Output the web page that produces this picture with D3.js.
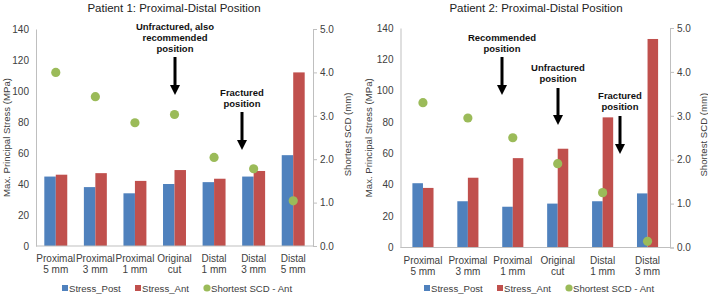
<!DOCTYPE html>
<html>
<head>
<meta charset="utf-8">
<script src="https://cdn.jsdelivr.net/npm/d3@7"></script>
<style>
  body { margin: 0; background: #fff; }
  svg { display: block; font-family: "Liberation Sans", Arial, sans-serif; }
</style>
</head>
<body>
<svg id="chart" width="708" height="295"></svg>
<script>
// data
var categories1 = [["Proximal", "5 mm"], ["Proximal", "3 mm"], ["Proximal", "1 mm"], ["Original", "cut"], ["Distal", "1 mm"], ["Distal", "3 mm"], ["Distal", "5 mm"]];
var stressPost1 = [44.8, 38, 34, 40, 41.2, 44.8, 58.6];
var stressAnt1 = [46, 47, 42, 49, 43.4, 48.4, 112];
var scd1 = [4.0, 3.44, 2.84, 3.03, 2.04, 1.78, 1.04];

var categories2 = [["Proximal", "5 mm"], ["Proximal", "3 mm"], ["Proximal", "1 mm"], ["Original", "cut"], ["Distal", "1 mm"], ["Distal", "3 mm"]];
var stressPost2 = [41, 29.5, 26, 28, 29.5, 34.5];
var stressAnt2 = [38, 44.5, 57, 63, 83, 133];
var scd2 = [3.3, 2.95, 2.5, 1.91, 1.25, 0.14];

var stressTicks = [0, 20, 40, 60, 80, 100, 120, 140];
var scdTicks = [0, 1, 2, 3, 4, 5];
var seriesNames = ["Stress_Post", "Stress_Ant", "Shortest SCD - Ant"];

var colPost = "#4f81bd", colAnt = "#c0504d", colScd = "#9bbb59";
var txt = "#404040", axisCol = "#bfbfbf";

var svg = d3.select("#chart");

function drawPanel(cfg) {
    var g = svg.append("g");
    var x = d3.scaleBand()
        .domain(d3.range(cfg.cats.length))
        .range([cfg.left, cfg.right])
        .paddingInner(cfg.pad)
        .paddingOuter(cfg.pad / 2);
    var xs = d3.scaleBand().domain([0, 1]).range([0, x.bandwidth()]);
    var y = d3.scaleLinear().domain([0, 140]).range([cfg.bottom, cfg.top]);
    var y2 = d3.scaleLinear().domain([0, 5]).range([cfg.bottom, cfg.top]);

    // title
    g.append("text")
        .attr("x", cfg.titleX).attr("y", 11.5)
        .attr("text-anchor", "middle")
        .style("font-size", "11.5px").style("fill", "#222")
        .text(cfg.title);

    // left axis
    var ay = g.append("g")
        .attr("transform", "translate(" + cfg.left + ",0)")
        .call(d3.axisLeft(y).tickValues(stressTicks).tickSize(0).tickPadding(7));
    ay.select(".domain").attr("stroke", axisCol);
    ay.selectAll("text").style("font-size", "10px").style("fill", txt).style("font-family", "Liberation Sans, Arial, sans-serif");

    // right axis
    var ay2 = g.append("g")
        .attr("transform", "translate(" + cfg.right + ",0)")
        .call(d3.axisRight(y2).tickValues(scdTicks).tickFormat(d3.format(".1f")).tickSize(4).tickPadding(3));
    ay2.select(".domain").attr("stroke", axisCol);
    ay2.selectAll(".tick line").attr("stroke", axisCol);
    ay2.selectAll("text").style("font-size", "10px").style("fill", txt).style("font-family", "Liberation Sans, Arial, sans-serif");

    // axis titles
    g.append("text")
        .attr("transform", "translate(" + cfg.ytX + "," + ((cfg.top + cfg.bottom) / 2) + ") rotate(-90)")
        .attr("text-anchor", "middle")
        .style("font-size", "9.6px").style("fill", txt)
        .text("Max. Principal Stress (MPa)");
    g.append("text")
        .attr("transform", "translate(" + cfg.yt2X + "," + ((cfg.top + cfg.bottom) / 2 - 3) + ") rotate(-90)")
        .attr("text-anchor", "middle")
        .style("font-size", "9.6px").style("fill", txt)
        .text("Shortest SCD (mm)");

    // bars
    var bars = [cfg.post, cfg.ant];
    var cols = [colPost, colAnt];
    bars.forEach(function(vals, s) {
        g.selectAll("rect.s" + s).data(vals).enter()
            .append("rect")
            .attr("class", "s" + s)
            .attr("x", function(d, i) { return x(i) + xs(s); })
            .attr("width", xs.bandwidth())
            .attr("y", function(d) { return y(d); })
            .attr("height", function(d) { return y(0) - y(d); })
            .style("fill", cols[s]);
    });

    // baseline
    g.append("line")
        .attr("x1", cfg.left).attr("x2", cfg.right)
        .attr("y1", y(0)).attr("y2", y(0))
        .attr("stroke", axisCol);

    // scd points
    g.selectAll("circle.scd").data(cfg.scd).enter()
        .append("circle")
        .attr("class", "scd")
        .attr("cx", function(d, i) { return x(i) + x.bandwidth() / 2; })
        .attr("cy", function(d) { return y2(d); })
        .attr("r", 4.6)
        .style("fill", colScd);

    // category labels
    var lab = g.selectAll("text.cat").data(cfg.cats).enter()
        .append("text")
        .attr("class", "cat")
        .attr("text-anchor", "middle")
        .style("font-size", "10px").style("fill", txt);
    lab.each(function(d, i) {
        var t = d3.select(this);
        d.forEach(function(line, k) {
            t.append("tspan")
                .attr("x", x(i) + x.bandwidth() / 2)
                .attr("y", y(0) + 16 + k * 11)
                .text(line);
        });
    });

    // legend
    var lg = g.append("g").attr("transform", "translate(" + cfg.legendX + ",288)");
    var offs = [0, 73, 142];
    seriesNames.forEach(function(n, i) {
        if (i < 2) {
            lg.append("rect").attr("x", offs[i]).attr("y", -3).attr("width", 6).attr("height", 6)
                .style("fill", cols[i]);
        } else {
            lg.append("circle").attr("cx", offs[i] + 3).attr("cy", 0).attr("r", 3.6).style("fill", colScd);
        }
        lg.append("text").attr("x", offs[i] + 7).attr("y", 3.5)
            .style("font-size", "9.6px").style("fill", txt).text(n);
    });

    // annotations
    cfg.notes.forEach(function(a) {
        var t = g.append("text")
            .attr("text-anchor", "middle")
            .style("font-size", "9.5px").style("font-weight", "bold").style("fill", "#111");
        a.lines.forEach(function(l, k) {
            t.append("tspan").attr("x", a.x).attr("y", a.ty + k * 11).text(l);
        });
        g.append("line")
            .attr("x1", a.x).attr("x2", a.x)
            .attr("y1", a.y0).attr("y2", a.y1 - 8)
            .attr("stroke", "#000").attr("stroke-width", 3);
        g.append("path")
            .attr("d", "M" + (a.x - 5) + "," + (a.y1 - 10) + "L" + (a.x + 5) + "," + (a.y1 - 10) + "L" + a.x + "," + a.y1 + "Z")
            .style("fill", "#000");
    });
}

drawPanel({
    title: "Patient 1: Proximal-Distal Position", titleX: 174,
    cats: categories1, post: stressPost1, ant: stressAnt1, scd: scd1,
    left: 36, right: 313, top: 29, bottom: 246, pad: 0.42,
    ytX: 10, yt2X: 351, legendX: 62,
    notes: [
        {x: 175, ty: 29.5, lines: ["Unfractured, also", "recommended", "position"], y0: 57, y1: 95},
        {x: 242, ty: 96, lines: ["Fractured", "position"], y0: 112, y1: 150}
    ]
});

drawPanel({
    title: "Patient 2: Proximal-Distal Position", titleX: 536,
    cats: categories2, post: stressPost2, ant: stressAnt2, scd: scd2,
    left: 400.5, right: 670, top: 28, bottom: 247.5, pad: 0.53,
    ytX: 372, yt2X: 707, legendX: 424,
    notes: [
        {x: 502, ty: 40.5, lines: ["Recommended", "position"], y0: 57, y1: 95},
        {x: 558, ty: 71, lines: ["Unfractured", "position"], y0: 88, y1: 125},
        {x: 620, ty: 99, lines: ["Fractured", "position"], y0: 116, y1: 154}
    ]
});
</script>
</body>
</html>
